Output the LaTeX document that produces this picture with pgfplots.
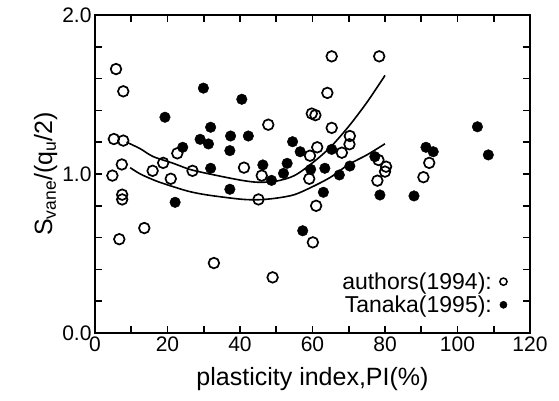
\documentclass[border=0pt]{standalone}
\usepackage{pgfplots}
\pgfplotsset{compat=1.18}
\usepackage{fontspec}
\setmainfont{Liberation Sans}
\begin{document}
\begin{tikzpicture}
\begin{axis}[
  scale only axis, width=435pt, height=318pt,
  xmin=0, xmax=120, ymin=0, ymax=2,
  xtick={0,20,...,120}, minor xtick={10,30,...,110},
  ytick={0,1,2}, minor ytick={0.2,0.4,0.6,0.8,1.2,1.4,1.6,1.8},
  tick align=inside, major tick length=7pt, minor tick length=7pt,
  every tick/.style={black, line width=1.6pt},
  axis line style={line width=2.2pt},
  /pgf/number format/assume math mode=true,
  yticklabel style={/pgf/number format/.cd, fixed, fixed zerofill, precision=1},
  ticklabel style={font=\fontsize{21}{24}\selectfont},
  xlabel={plasticity index,PI(\%)},
  ylabel={S$_{\mathrm{vane}}$/(q$_{\mathrm{u}}$/2)},
  label style={font=\fontsize{25}{28}\selectfont},
  xlabel style={yshift=-9pt},
  ylabel style={yshift=-2pt},
  legend plot pos=right,
  legend cell align=right,
  legend style={draw=none, fill=none, at={(axis cs:114,0.1)}, anchor=south east,
    font=\fontsize{23}{26}\selectfont, row sep=1pt, inner sep=1pt,
    nodes={inner sep=2pt}},
]
\addplot[only marks, mark=o, mark size=5.3pt, line width=1.7pt,
  mark options={fill=white}, forget plot] coordinates {
(4.8,0.99) (5.8,1.66) (5.2,1.22) (7.8,1.21) (7.8,1.52) (7.4,1.06)
(7.5,0.87) (7.5,0.84) (6.7,0.59) (13.6,0.66) (15.9,1.02) (18.8,1.07)
(20.9,0.97) (22.7,1.13) (26.9,1.02) (32.8,0.44) (41.1,1.04) (45.1,0.84)
(46,0.99) (47.8,1.31) (49,0.35) (59.1,0.97) (59.3,1.115) (59.8,1.38)
(60.8,1.37) (61.3,1.168) (61,0.80) (60.1,0.57) (64.1,1.51) (65.3,1.29)
(65.3,1.74) (68.1,1.134) (70.2,1.187) (70.3,1.239) (78.4,1.74) (78.2,1.088)
(80.3,1.046) (80,1.015) (77.9,0.958) (90.6,0.98) (92.2,1.07)
};
\addplot[only marks, mark=*, mark size=5.3pt, black, forget plot] coordinates {
(19.3,1.357) (22.1,0.822) (24.2,1.168) (29.9,1.54) (29,1.218) (31.3,1.189)
(31.9,1.294) (31.9,1.036) (37.4,1.239) (37.2,1.147) (37.2,0.904) (40.5,1.47)
(42.3,1.239) (46.3,1.057) (48.7,0.96) (52,1.004) (53,1.067) (54.5,1.203)
(56.6,1.14) (57.3,0.643) (59.5,1.029) (63.4,1.036) (63,0.885) (65.3,1.155)
(67.4,0.994) (70.3,1.05) (77.2,1.109) (78.6,0.868) (88,0.862) (91.3,1.168)
(93.3,1.14) (105.5,1.297) (108.5,1.12)
};
\addplot[smooth, line width=1.6pt, black, forget plot] coordinates {
(8.7,1.20) (12.4,1.16) (16,1.11) (21.6,1.067) (26,1.03) (30.8,1.004) (40,0.962)
(45,0.948) (50,0.955) (55,0.99) (60,1.07) (65,1.17) (70,1.30) (75,1.45) (80,1.62)
};
\addplot[smooth, line width=1.6pt, black, forget plot] coordinates {
(9.7,1.04) (12.5,1.0) (17,0.955) (21.6,0.92) (26,0.89) (31,0.868) (40,0.842)
(45,0.838) (50,0.848) (55,0.87) (60,0.92) (65,0.98) (70,1.06) (75,1.12) (80,1.19)
};
\addlegendimage{only marks, mark=o, mark size=3.6pt, line width=1.5pt, black}
\addlegendentry{authors(1994):\hspace*{6pt}}
\addlegendimage{only marks, mark=*, mark size=3.6pt, black}
\addlegendentry{Tanaka(1995):\hspace*{6pt}}
\end{axis}
\pgfresetboundingbox
\path (current axis.south west) ++(-95pt,-68pt) coordinate (bl);
\path (current axis.north east) ++(29pt,15pt) coordinate (tr);
\path[use as bounding box] (bl) rectangle (tr);
\end{tikzpicture}
\end{document}
